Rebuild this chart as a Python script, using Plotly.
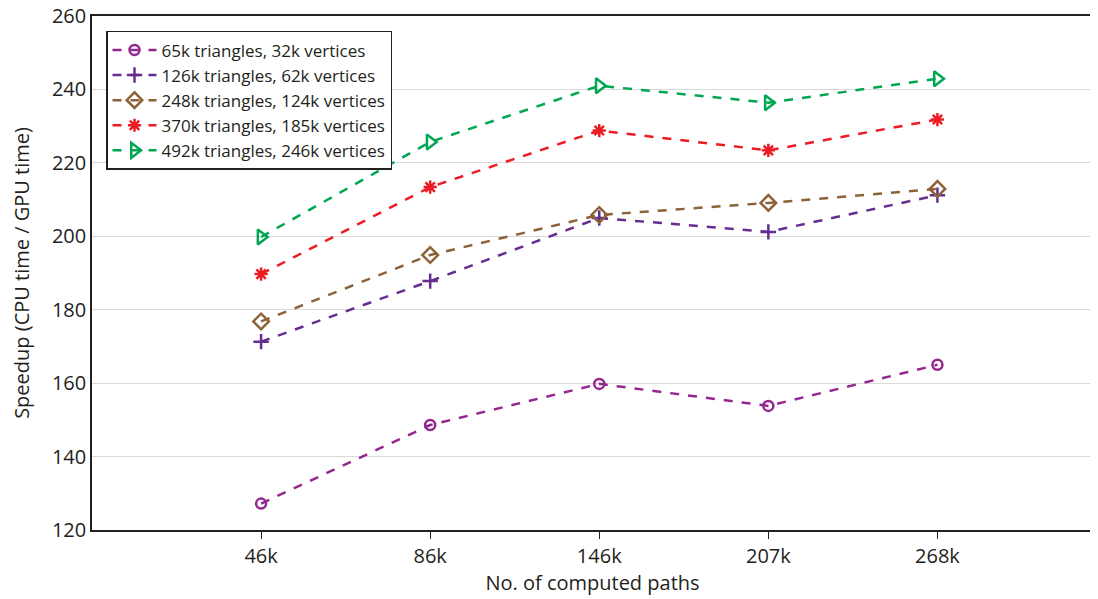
import plotly.graph_objects as go

categories = ["46k", "86k", "146k", "207k", "268k"]
series_names = [
    "65k triangles, 32k vertices",
    "126k triangles, 62k vertices",
    "248k triangles, 124k vertices",
    "370k triangles, 185k vertices",
    "492k triangles, 246k vertices",
]
s65k = [127.2, 148.6, 159.8, 153.8, 165.0]
s126k = [171.3, 187.8, 205.0, 201.2, 211.2]
s248k = [176.8, 194.9, 205.8, 209.1, 212.9]
s370k = [189.7, 213.4, 228.8, 223.4, 231.8]
s492k = [199.8, 225.7, 241.0, 236.4, 242.9]

colors = ["#93278F", "#662D91", "#8C6239", "#ED1C24", "#00A651"]
symbols = ["circle-open", "cross-thin-open", "diamond-open", "asterisk-open", "triangle-right-open"]
sizes = [10, 11, 12, 11, 13]
data = [s65k, s126k, s248k, s370k, s492k]

xpos = list(range(len(categories)))
font = "Open Sans, Noto Sans, sans-serif"

fig = go.Figure()
for name, vals, c, sym, sz in zip(series_names, data, colors, symbols, sizes):
    fig.add_trace(go.Scatter(
        x=xpos, y=vals, name=name, mode="lines+markers",
        line=dict(color=c, width=2.5, dash="dash"),
        marker=dict(symbol=sym, size=sz, color=c, line=dict(color=c, width=2.5)),
    ))

# page body has an 8px default margin, so the figure is sized to fit the window
fig.update_layout(
    width=1090, height=591,
    margin=dict(l=84, r=5, t=8, b=69),
    plot_bgcolor="white", paper_bgcolor="white",
    font=dict(family=font, color="#231F20"),
    showlegend=True,
    legend=dict(
        x=0.014, y=0.971, xanchor="left", yanchor="top",
        bgcolor="white", bordercolor="#231F20", borderwidth=1.5,
        font=dict(size=17, family=font, color="#231F20"),
        tracegroupgap=0, itemwidth=44,
        entrywidth=240, entrywidthmode="pixels",
    ),
    xaxis=dict(
        tickmode="array", tickvals=xpos, ticktext=categories,
        range=[-1, 4.92], showgrid=False, zeroline=False, automargin=False,
        showline=True, linecolor="#231F20", linewidth=1.5, mirror=True,
        ticks="outside", ticklen=7, tickcolor="#231F20",
        tickfont=dict(size=20, family=font),
        title=dict(text="No. of computed paths", font=dict(size=20, family=font), standoff=6),
    ),
    yaxis=dict(
        range=[120, 260], dtick=20, showgrid=True, gridcolor="#D9D9D9", gridwidth=1.2,
        zeroline=False, showline=True, linecolor="#231F20", linewidth=1.5, mirror=True,
        automargin=False, ticklabeloverflow="allow",
        ticks="", tickfont=dict(size=20, family=font),
        title=dict(text="Speedup (CPU time / GPU time)", font=dict(size=20, family=font), standoff=24),
    ),
)

fig.write_html("out.html")
